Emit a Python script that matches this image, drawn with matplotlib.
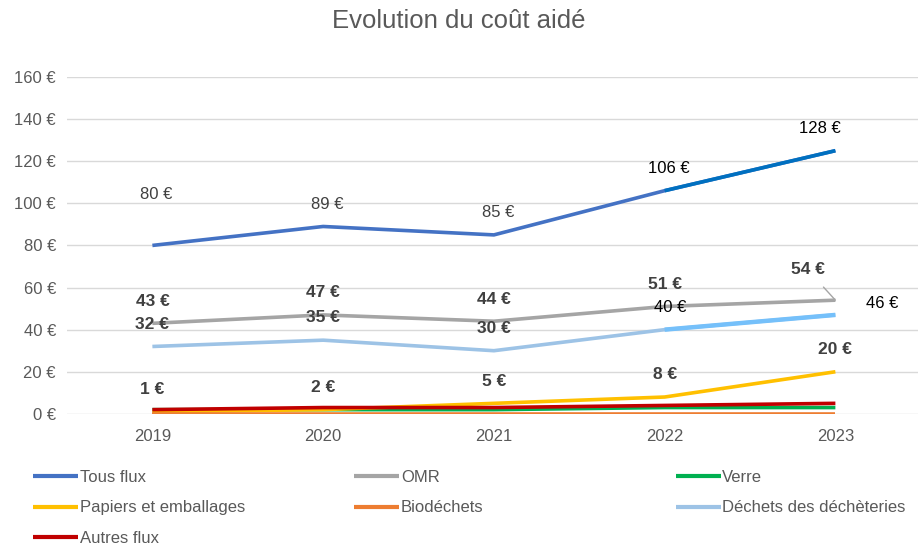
import matplotlib.pyplot as plt

# Data
years = ["2019", "2020", "2021", "2022", "2023"]
tous_flux = [80, 89, 85, 106, 125]
omr = [43, 47, 44, 51, 54]
verre = [2, 2, 2, 3, 3]
papiers = [1, 2, 5, 8, 20]
biodechets = [0, 0, 0, 0, 0]
decheteries = [32, 35, 30, 40, 47]
autres = [2, 3, 3, 4, 5]

tous_labels = ["80 €", "89 €", "85 €", "106 €", "128 €"]
omr_labels = ["43 €", "47 €", "44 €", "51 €", "54 €"]
dech_labels = ["32 €", "35 €", "30 €", "40 €", "46 €"]
pap_labels = ["1 €", "2 €", "5 €", "8 €", "20 €"]

plt.rcParams['font.family'] = ['Liberation Sans', 'DejaVu Sans']

fig = plt.figure(figsize=(9.18, 5.46), dpi=100)
ax = fig.add_axes([0.073, 0.242, 0.93, 0.617])

x = list(range(len(years)))
lw = 2.6
series = [
    ("Tous flux", tous_flux, "#4472C4"),
    ("OMR", omr, "#A5A5A5"),
    ("Verre", verre, "#00B050"),
    ("Papiers et emballages", papiers, "#FFC000"),
    ("Biodéchets", biodechets, "#ED7D31"),
    ("Déchets des déchèteries", decheteries, "#9DC3E6"),
    ("Autres flux", autres, "#C00000"),
]
handles = {}
for name, vals, col in series:
    h, = ax.plot(x, vals, color=col, lw=lw, solid_capstyle='butt', label=name)
    handles[name] = h

# last segments recoloured in the original
ax.plot(x[3:], tous_flux[3:], color="#0070C0", lw=lw, solid_capstyle='butt')
ax.plot(x[3:], decheteries[3:], color="#75C0FA", lw=lw + 0.6, solid_capstyle='butt')

ax.set_xlim(-0.5, 4.5)
ax.set_ylim(0, 160)
ax.set_yticks(range(0, 161, 20))
ax.set_yticklabels([f"{v} €" for v in range(0, 161, 20)])
ax.set_xticks(x)
ax.set_xticklabels(years)
ax.grid(axis='y', color="#D9D9D9", lw=1)
ax.set_axisbelow(True)
for s in ax.spines.values():
    s.set_visible(False)
ax.tick_params(length=0, colors="#595959", labelsize=12, pad=8)
ax.tick_params(axis='x', pad=11)

dark = "#404040"
def lab(i, y, text, dx=0, dy=16, bold=False, color=dark, size=12):
    ax.annotate(text, (i, y), xytext=(dx, dy), textcoords='offset points',
                ha='center', va='center', fontsize=size, color=color,
                fontweight='bold' if bold else 'normal')

for i in range(5):
    dy = 37 if i == 0 else 16
    dx = -11 if i == 4 else 3
    col = "black" if i >= 3 else dark
    lab(i, tous_flux[i], tous_labels[i], dx=dx, dy=dy, color=col, size=12)
for i in range(4):
    lab(i, omr[i], omr_labels[i], dy=16, bold=True, size=12.5)
ax.annotate(omr_labels[4], (4, omr[4]), xytext=(-20, 22), textcoords='offset points',
            ha='center', va='center', fontsize=12.5, color=dark, fontweight='bold',
            arrowprops=dict(arrowstyle='-', color="#A5A5A5", lw=1, shrinkA=7, shrinkB=0))
for i in range(3):
    lab(i, decheteries[i], dech_labels[i], dy=16, bold=True, size=12.5)
lab(3, decheteries[3], dech_labels[3], dx=4, dy=16, color="black", size=12)
lab(4, decheteries[4], dech_labels[4], dx=34, dy=8, color="black", size=12)
for i in range(5):
    lab(i, papiers[i], pap_labels[i], dy=16, bold=True, size=12.5)

fig.text(0.5, 0.962, "Evolution du coût aidé", ha='center', va='center',
         fontsize=18.5, color="#595959")

cols = [["Tous flux", "Papiers et emballages", "Autres flux"],
        ["OMR", "Biodéchets"],
        ["Verre", "Déchets des déchèteries"]]
for k, names in enumerate(cols):
    leg = fig.legend([handles[n] for n in names], names, loc='upper left',
                     bbox_to_anchor=(0.036 + k * 0.35, 0.14), frameon=False,
                     handlelength=2.7, handletextpad=0.1, labelspacing=0.95,
                     fontsize=12, borderaxespad=0, borderpad=0)
    for t in leg.get_texts():
        t.set_color("#595959")
    for l in leg.get_lines():
        l.set_linewidth(3)

fig.savefig("out.png", dpi=100)
